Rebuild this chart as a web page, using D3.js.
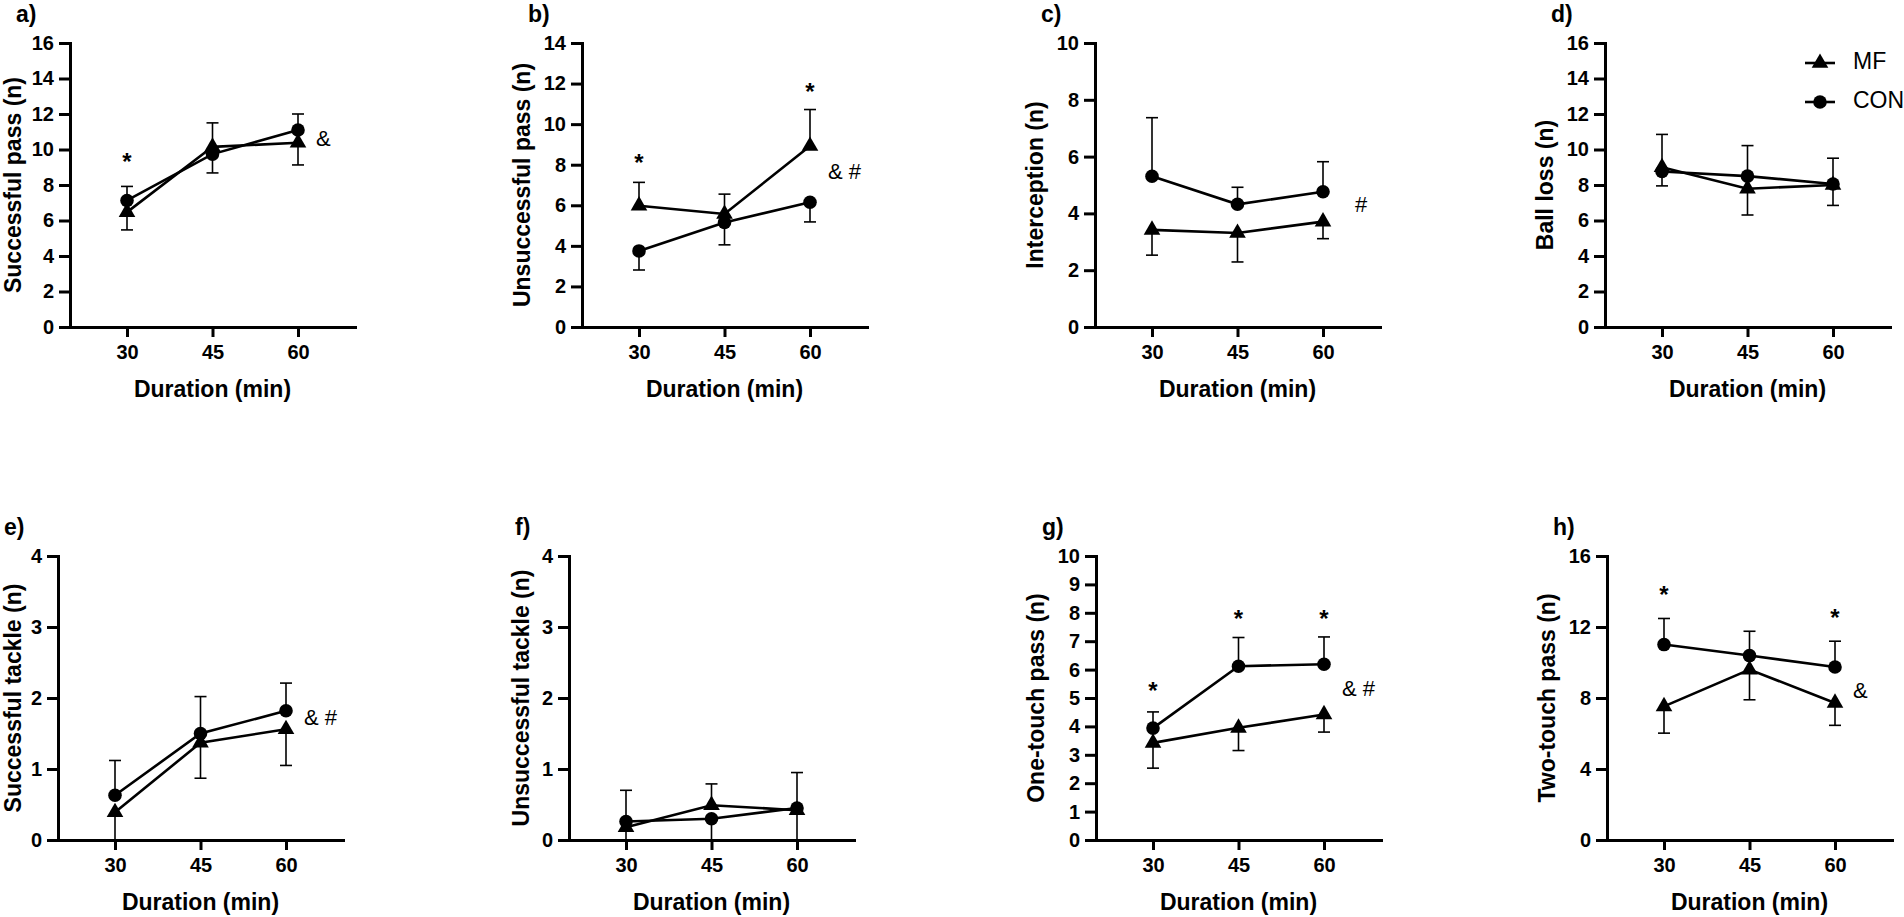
<!DOCTYPE html>
<html>
<head>
<meta charset="utf-8">
<script src="https://cdn.jsdelivr.net/npm/d3@7"></script>
<style>
  body { margin: 0; background: #fff; }
  svg { display: block; }
  text { font-family: "Liberation Sans", Arial, sans-serif; fill: #000; }
</style>
</head>
<body>
<svg id="chart"></svg>
<script>
const width = 1904, height = 917;

// ---- data ----
const durations = [30, 45, 60];
const panelLetters = ["a)", "b)", "c)", "d)", "e)", "f)", "g)", "h)"];
const yTitles = ["Successful pass (n)", "Unsuccessful pass (n)", "Interception (n)", "Ball loss (n)",
  "Successful tackle (n)", "Unsuccessful tackle (n)", "One-touch pass (n)", "Two-touch pass (n)"];
const yMax = [16, 14, 10, 16, 4, 4, 10, 16];
const yStep = [2, 2, 2, 2, 1, 1, 1, 4];

const mfMean = [
  [6.47, 10.15, 10.38], [5.98, 5.57, 8.92], [3.42, 3.31, 3.71], [9.0, 7.79, 8.0],
  [0.39, 1.37, 1.56], [0.18, 0.49, 0.42], [3.42, 3.95, 4.42], [7.53, 9.6, 7.72]
];
const mfSD = [
  [1.0, 1.35, 1.25], [1.15, 0.98, 1.8], [0.89, 1.02, 0.6], [1.85, 1.48, 1.15],
  [0.45, 0.5, 0.51], [0.3, 0.3, 0.45], [0.89, 0.8, 0.62], [1.51, 1.7, 1.26]
];
const conMean = [
  [7.13, 9.74, 11.1], [3.75, 5.15, 6.15], [5.31, 4.32, 4.76], [8.76, 8.5, 8.06],
  [0.63, 1.5, 1.82], [0.26, 0.3, 0.45], [3.94, 6.12, 6.19], [11.01, 10.39, 9.75]
];
const conSD = [
  [0.79, 1.06, 0.9], [0.94, 1.1, 0.97], [2.06, 0.6, 1.06], [0.81, 1.72, 1.45],
  [0.49, 0.52, 0.39], [0.44, 0.35, 0.5], [0.57, 1.01, 0.96], [1.47, 1.37, 1.45]
];

// asterisks: [duration, height]
const stars = [
  [[30, 9.2]], [[30, 8.0], [60, 11.5]], [], [],
  [], [], [[30, 5.2], [45, 7.74], [60, 7.74]], [[30, 13.7], [60, 12.4]]
];
const sigText = ["&", "& #", "#", "", "& #", "", "& #", "&"];
const sigY = [10.55, 7.6, 4.27, 0, 1.7, 0, 5.27, 8.34];

// ---- layout ----
const axisX = [70, 582, 1095, 1605, 58, 569, 1096, 1607];
const rowTop = [43, 43, 43, 43, 556, 556, 556, 556];
const plotW = 285, plotH = 284;

const svg = d3.select("#chart")
  .attr("width", width)
  .attr("height", height)
  .attr("viewBox", [0, 0, width, height]);

const triangle = d3.symbol().type(d3.symbolTriangle).size(120);
const circle = d3.symbol().type(d3.symbolCircle).size(145);

panelLetters.forEach((letter, i) => {
  const g = svg.append("g").attr("transform", `translate(${axisX[i]},${rowTop[i]})`);

  const x = d3.scaleLinear().domain([20, 70]).range([0, plotW]);
  const y = d3.scaleLinear().domain([0, yMax[i]]).range([plotH, 0]);

  // axes
  const yAxis = d3.axisLeft(y)
    .tickValues(d3.range(0, yMax[i] + yStep[i] / 2, yStep[i]))
    .tickFormat(d3.format("d"))
    .tickSize(11).tickSizeOuter(0).tickPadding(5);
  const xAxis = d3.axisBottom(x)
    .tickValues(durations)
    .tickFormat(d3.format("d"))
    .tickSize(10).tickSizeOuter(0).tickPadding(8);

  const ya = g.append("g").call(yAxis);
  const xa = g.append("g").attr("transform", `translate(0,${plotH})`).call(xAxis);
  [ya, xa].forEach(a => {
    a.select(".domain").attr("stroke-width", 3).attr("stroke-linecap", "square");
    a.selectAll(".tick line").attr("stroke-width", 3);
    a.selectAll(".tick text")
      .style("font-size", "20px").style("font-weight", "bold")
      .style("font-family", "'Liberation Sans', Arial, sans-serif");
  });

  // axis titles (kept inside the left edge of the page)
  const digits = String(yMax[i]).length;
  const titleX = Math.max(-(34 + 12 * digits), 15 - axisX[i]);
  g.append("text")
    .attr("transform", `translate(${titleX},${plotH / 2}) rotate(-90)`)
    .attr("text-anchor", "middle")
    .attr("dominant-baseline", "middle")
    .style("font-size", "23px").style("font-weight", "bold")
    .text(yTitles[i]);

  g.append("text")
    .attr("x", x(45))
    .attr("y", plotH + 64)
    .attr("text-anchor", "middle")
    .attr("dominant-baseline", "middle")
    .style("font-size", "23px").style("font-weight", "bold")
    .text("Duration (min)");

  g.append("text")
    .attr("x", -54)
    .attr("y", -27)
    .attr("dominant-baseline", "middle")
    .style("font-size", "23px").style("font-weight", "bold")
    .text(letter);

  // series
  const series = [
    { mean: mfMean[i], sd: mfSD[i], other: conMean[i], sym: triangle },
    { mean: conMean[i], sd: conSD[i], other: mfMean[i], sym: circle }
  ];

  // error bars: higher group drawn upward, lower group downward
  series.forEach(s => {
    durations.forEach((d, j) => {
      const up = s.mean[j] >= s.other[j];
      const end = Math.max(0, Math.min(yMax[i], up ? s.mean[j] + s.sd[j] : s.mean[j] - s.sd[j]));
      g.append("line")
        .attr("x1", x(d)).attr("x2", x(d))
        .attr("y1", y(s.mean[j])).attr("y2", y(end))
        .attr("stroke", "#000").attr("stroke-width", 1.6);
      if (end > 0) {
        g.append("line")
          .attr("x1", x(d) - 6).attr("x2", x(d) + 6)
          .attr("y1", y(end)).attr("y2", y(end))
          .attr("stroke", "#000").attr("stroke-width", 1.6);
      }
    });
  });

  const line = d3.line().x((d, j) => x(durations[j])).y(d => y(d));
  series.forEach(s => {
    g.append("path")
      .attr("d", line(s.mean))
      .attr("fill", "none")
      .attr("stroke", "#000")
      .attr("stroke-width", 2.6);
    g.append("g")
      .selectAll("path")
      .data(s.mean)
      .join("path")
      .attr("transform", (d, j) => `translate(${x(durations[j])},${y(d)})`)
      .attr("d", s.sym())
      .attr("fill", "#000");
  });

  // significance marks
  g.append("g")
    .selectAll("text")
    .data(stars[i])
    .join("text")
    .attr("x", d => x(d[0]))
    .attr("y", d => y(d[1]))
    .attr("text-anchor", "middle")
    .attr("dominant-baseline", "middle")
    .style("font-size", "24px")
    .style("font-weight", "bold")
    .text("*");

  if (sigText[i]) {
    g.append("text")
      .attr("x", x(60) + (sigText[i] === "#" ? 32 : 18))
      .attr("y", y(sigY[i]))
      .attr("dominant-baseline", "middle")
      .attr("xml:space", "preserve")
      .style("font-size", "22px")
      .text(sigText[i]);
  }

  // legend in panel d
  if (letter === "d)") {
    const legend = g.append("g").attr("transform", `translate(${plotW - 85},20)`);
    [{ label: "MF", sym: triangle }, { label: "CON", sym: circle }].forEach((item, k) => {
      const row = legend.append("g").attr("transform", `translate(0,${k * 39})`);
      row.append("line").attr("x1", 0).attr("x2", 30)
        .attr("stroke", "#000").attr("stroke-width", 2.6);
      row.append("path").attr("transform", "translate(15,0)").attr("d", item.sym()).attr("fill", "#000");
      row.append("text").attr("x", 48).attr("dominant-baseline", "middle")
        .style("font-size", "23px").text(item.label);
    });
  }
});
</script>
</body>
</html>
